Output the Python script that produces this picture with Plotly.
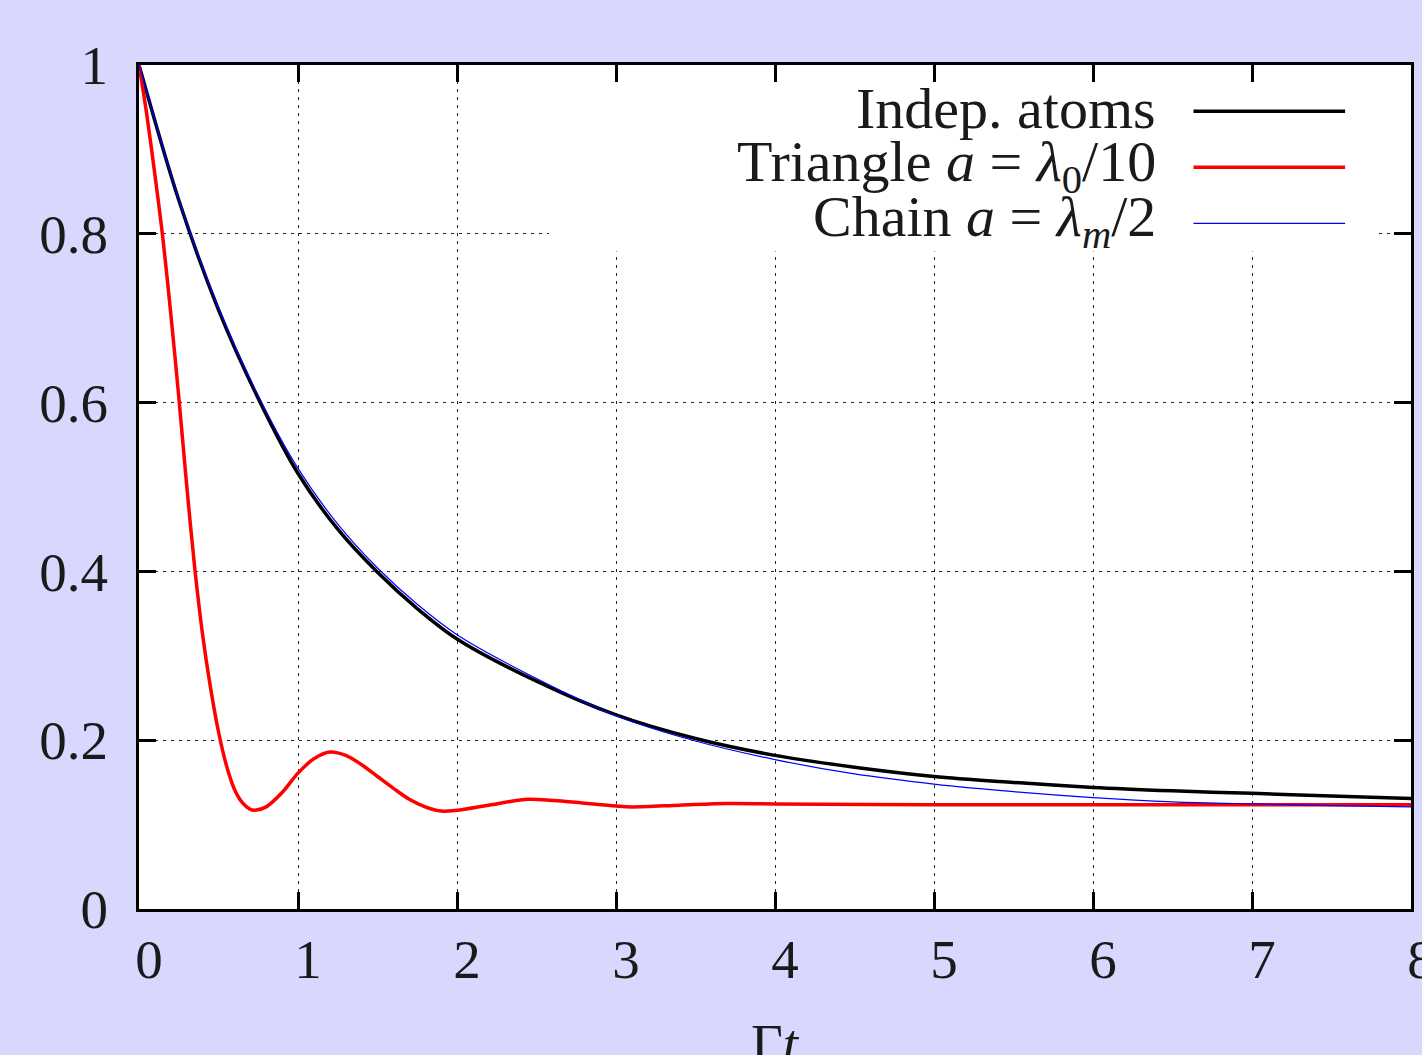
import plotly.graph_objects as go

# ---- data ----
t_black = [0, 0.25, 0.5, 0.75, 1.0, 1.25, 1.5, 1.75, 2.0, 2.5, 3.0, 3.5, 4.0, 4.5, 5.0, 5.5, 6.0, 6.5, 7.0, 7.5, 8.0]
y_black = [1.0, 0.840, 0.710, 0.605, 0.516, 0.450, 0.399, 0.356, 0.320, 0.270, 0.230, 0.202, 0.182, 0.168, 0.157, 0.150, 0.144, 0.140, 0.137, 0.134, 0.131]

t_blue = [0, 0.25, 0.5, 0.75, 1.0, 1.25, 1.5, 1.75, 2.0, 2.5, 3.0, 3.5, 4.0, 4.5, 5.0, 5.5, 6.0, 6.5, 7.0, 7.5, 8.0]
y_blue = [1.0, 0.841, 0.712, 0.608, 0.522, 0.456, 0.404, 0.361, 0.325, 0.273, 0.229, 0.199, 0.177, 0.160, 0.148, 0.139, 0.132, 0.127, 0.1245, 0.1225, 0.121]

t_red = [0, 0.05, 0.1, 0.15, 0.2, 0.25, 0.3, 0.35, 0.4, 0.45, 0.5, 0.55, 0.6, 0.65, 0.7, 0.73, 0.8, 0.9,
         1.0, 1.1, 1.2, 1.3, 1.4, 1.5, 1.6, 1.7, 1.8, 1.9, 2.0, 2.2, 2.45, 2.7, 3.0, 3.1, 3.4, 3.7, 4.0,
         5.0, 6.0, 7.0, 8.0]
y_red = [1.0, 0.94, 0.87, 0.795, 0.705, 0.607, 0.502, 0.405, 0.325, 0.262, 0.210, 0.170, 0.142, 0.126, 0.118, 0.117, 0.121, 0.138,
         0.161, 0.178, 0.186, 0.182, 0.171, 0.157, 0.143, 0.130, 0.121, 0.116, 0.117, 0.123, 0.130, 0.127, 0.122, 0.121, 0.123, 0.125, 0.1245,
         0.1235, 0.1235, 0.1235, 0.1235]

x_ticks = [0, 1, 2, 3, 4, 5, 6, 7, 8]
x_ticktext = ["0", "1", "2", "3", "4", "5", "6", "7", "8"]
y_ticks = [0, 0.2, 0.4, 0.6, 0.8, 1.0]
y_ticktext = ["0", "0.2", "0.4", "0.6", "0.8", "1"]
x_title = "Γ<i>t</i>"

series_names = ["Indep. atoms",
                "Triangle <i>a</i> = <i>λ</i><sub>0</sub>/10",
                "Chain <i>a</i> = <i>λ<sub>m</sub></i>/2"]
series_colors = ["#000000", "#ff0000", "#0000ff"]
series_widths = [3.5, 3.5, 1.2]

FONT = "Liberation Serif"
FS = 55
LFS = 58
TXT = "#1a1a1a"

fig = go.Figure()
for t, y, name, c, w in [(t_black, y_black, series_names[0], series_colors[0], series_widths[0]),
                          (t_red, y_red, series_names[1], series_colors[1], series_widths[1]),
                          (t_blue, y_blue, series_names[2], series_colors[2], series_widths[2])]:
    fig.add_trace(go.Scatter(x=t, y=y, mode="lines", name=name, showlegend=False,
                             line=dict(color=c, width=w, shape="spline", smoothing=0.9)))

axis_common = dict(
    showline=True, linecolor="black", linewidth=3, mirror="ticks",
    ticks="inside", ticklen=17, tickwidth=3, tickcolor="black",
    showgrid=True, gridcolor="#222222", gridwidth=1, griddash="3px,5px",
    zeroline=False, automargin=False, ticklabeloverflow="allow",
    tickfont=dict(family=FONT, size=FS, color=TXT),
)

fig.update_xaxes(range=[0, 8], tickvals=x_ticks, ticktext=x_ticktext,
                 ticklabelstandoff=0, ticklabelshift=10, **axis_common)
fig.update_yaxes(range=[0, 1], tickvals=y_ticks, ticktext=y_ticktext,
                 ticklabelstandoff=17, **axis_common)

# x-axis title (partly cut by the bottom edge, as in the reference)
fig.add_annotation(xref="paper", yref="paper", x=0.5, y=-0.121, xanchor="center", yanchor="top",
                   text=x_title, showarrow=False, font=dict(family=FONT, size=FS, color=TXT))

# legend box (white, hides grid lines) and entries: text right-aligned, sample line on the right
fig.add_shape(type="rect", xref="paper", yref="paper", x0=0.3224, x1=0.9733, y0=0.779, y1=0.980,
              fillcolor="white", line=dict(width=0), layer="above")
leg_text_y = [0.948, 0.8813, 0.8152]
leg_line_y = [0.9453, 0.8788, 0.8123]
for name, c, w, ty, ly in zip(series_names, series_colors, series_widths, leg_text_y, leg_line_y):
    fig.add_annotation(xref="paper", yref="paper", x=0.8008, y=ty, xanchor="right", yanchor="middle",
                       text=name, showarrow=False, font=dict(family=FONT, size=LFS, color=TXT))
    fig.add_shape(type="line", xref="paper", yref="paper", x0=0.8290, x1=0.9482, y0=ly, y1=ly,
                  line=dict(color=c, width=w), layer="above")

fig.update_layout(
    width=1422, height=1055,
    margin=dict(l=139, r=11, t=65, b=146),
    paper_bgcolor="#d8d8ff", plot_bgcolor="white",
    font=dict(family=FONT, size=FS, color=TXT),
)

fig.write_html("out.html", config={"displayModeBar": False},
               post_script="document.body.style.margin='0';document.body.style.background='#d8d8ff';")
